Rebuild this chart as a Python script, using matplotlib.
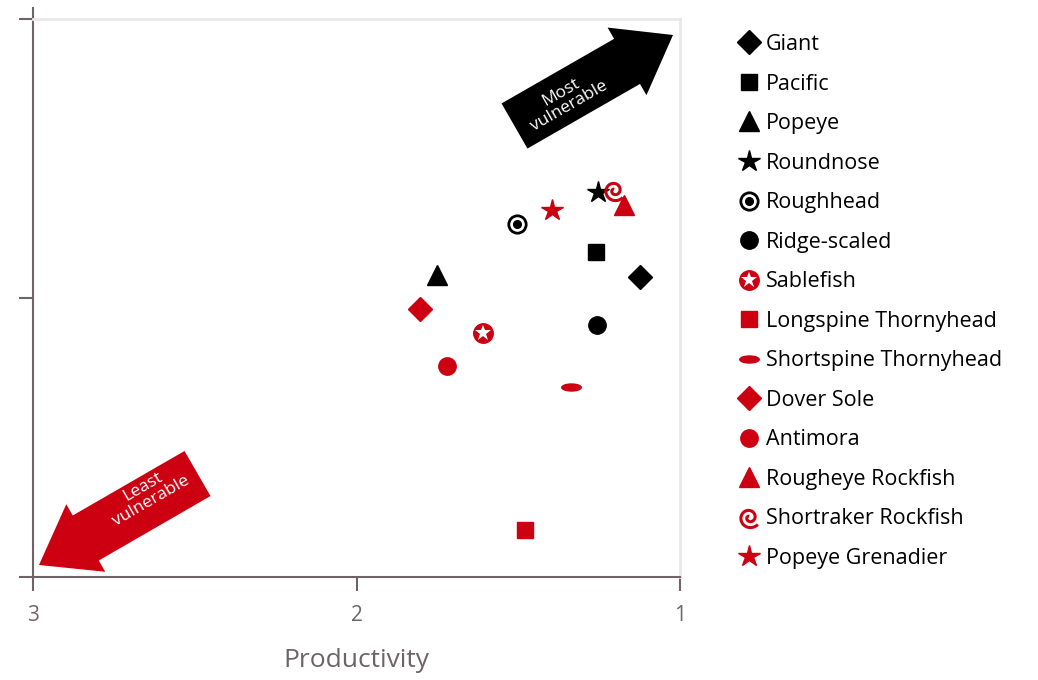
import numpy as np
import matplotlib
matplotlib.use("Agg")
import matplotlib.pyplot as plt
from matplotlib.path import Path
from matplotlib.patches import FancyArrow
from matplotlib.lines import Line2D
from matplotlib.legend_handler import HandlerTuple

plt.rcParams['font.family'] = ['Open Sans', 'DejaVu Sans']

# data (productivity on x, vulnerability on y)
species = ['Giant', 'Pacific', 'Popeye', 'Roundnose', 'Roughhead', 'Ridge-scaled',
           'Sablefish', 'Longspine Thornyhead', 'Shortspine Thornyhead', 'Dover Sole',
           'Antimora', 'Rougheye Rockfish', 'Shortraker Rockfish', 'Popeye Grenadier']
productivity = [1.124, 1.260, 1.751, 1.253, 1.504, 1.257,
                1.609, 1.479, 1.337, 1.804,
                1.720, 1.173, 1.204, 1.396]
vulnerability = [2.075, 2.165, 2.082, 2.380, 2.265, 1.903,
                 1.875, 1.168, 1.681, 1.961,
                 1.756, 2.333, 2.387, 2.315]
x_ticks = [3, 2, 1]
y_ticks = [1, 2, 3]

RED = '#cc0011'
BLACK = '#000000'
GREY = '#6e6466'

# custom marker shapes
th_end = 2 * np.pi + np.radians(320)
th = np.linspace(th_end - 3.2 * np.pi, th_end, 150)
r = 0.12 + 0.88 * (th - th[0]) / (th[-1] - th[0])
spiral = Path(np.column_stack([r * np.cos(th), r * np.sin(th)]))
circ = Path.unit_circle()
ellipse = Path(circ.vertices * np.array([1.0, 0.36]), circ.codes)

def style(name):
    # list of marker layers drawn on top of each other
    base = dict(linestyle='none')
    s = {
        'Giant': [dict(marker='D', ms=12, color=BLACK)],
        'Pacific': [dict(marker='s', ms=11.5, color=BLACK)],
        'Popeye': [dict(marker='^', ms=14, color=BLACK)],
        'Roundnose': [dict(marker='*', ms=16, color=BLACK)],
        'Roughhead': [dict(marker='o', ms=12.5, mfc='white', mec=BLACK, mew=2),
                      dict(marker='o', ms=5.5, color=BLACK)],
        'Ridge-scaled': [dict(marker='o', ms=12.5, color=BLACK)],
        'Sablefish': [dict(marker='o', ms=14, color=RED),
                      dict(marker='*', ms=12, color='white', mew=0)],
        'Longspine Thornyhead': [dict(marker='s', ms=11.5, color=RED)],
        'Shortspine Thornyhead': [dict(marker=ellipse, ms=14, color=RED)],
        'Dover Sole': [dict(marker='D', ms=12, color=RED)],
        'Antimora': [dict(marker='o', ms=12.5, color=RED)],
        'Rougheye Rockfish': [dict(marker='^', ms=14, color=RED)],
        'Shortraker Rockfish': [dict(marker=spiral, ms=14.5, mfc='none', mec=RED, mew=2.2)],
        'Popeye Grenadier': [dict(marker='*', ms=16, color=RED)],
    }[name]
    return [{**base, **k} for k in s]

fig = plt.figure(figsize=(10.38, 6.8), dpi=100)
ax = fig.add_axes([33 / 1038, 103 / 680, 647 / 1038, 558 / 680])

handles = []
for name, xv, yv in zip(species, productivity, vulnerability):
    layers = style(name)
    hs = []
    for k in layers:
        ax.plot([xv], [yv], zorder=3, **k)
        hs.append(Line2D([], [], **k))
    handles.append(tuple(hs))

ax.set_xlim(3, 1)
ax.set_ylim(1, 3)
ax.set_xticks(x_ticks)
ax.set_xticklabels([str(v) for v in x_ticks])
ax.set_yticks(y_ticks)
ax.set_yticklabels([])
ax.tick_params(axis='both', direction='out', length=10, width=1.5, color=GREY,
               labelcolor=GREY, labelsize=15, pad=10)
for side in ['left', 'bottom']:
    ax.spines[side].set_color(GREY)
    ax.spines[side].set_linewidth(1.5)
for side in ['top', 'right']:
    ax.spines[side].set_color('#e8e8e8')
    ax.spines[side].set_linewidth(2)
# left axis line runs a little above the plot box
ax.plot([0, 0], [1, 1.02], transform=ax.transAxes, color=GREY, lw=1.5, clip_on=False)

ax.set_xlabel('Productivity', fontsize=19, color=GREY, labelpad=16)

# direction arrows, drawn in pixel space (origin top-left)
def px_arrow(tail, tip, width, head_w, head_l, color, text, text_xy):
    tx, ty = tail[0] / 100, (680 - tail[1]) / 100
    hx, hy = tip[0] / 100, (680 - tip[1]) / 100
    arr = FancyArrow(tx, ty, hx - tx, hy - ty, width=width / 100, head_width=head_w / 100,
                     head_length=head_l / 100, length_includes_head=True,
                     transform=fig.dpi_scale_trans, color=color, lw=0, zorder=5)
    fig.add_artist(arr)
    ang = np.degrees(np.arctan2(hy - ty, hx - tx))
    if ang > 90:
        ang -= 180
    if ang < -90:
        ang += 180
    fig.text(text_xy[0] / 1038, 1 - text_xy[1] / 680, text, rotation=ang,
             rotation_mode='anchor', ha='center', va='center', color='white',
             fontsize=12.5, linespacing=1.0, zorder=6)

px_arrow((514.5, 126), (673, 35), 52, 78, 53, BLACK, 'Most\nvulnerable', (565, 99))
px_arrow((197.5, 473.5), (39, 565), 52, 78, 54, RED, 'Least\nvulnerable', (147, 494))

fig.legend(handles, species, handler_map={tuple: HandlerTuple(ndivide=1, pad=0)},
           loc='upper left', bbox_to_anchor=(738 / 1038, 1 - 34 / 680), frameon=False,
           fontsize=15.5, labelspacing=0.86, handlelength=1.0, handletextpad=0.3,
           borderaxespad=0, borderpad=0)

fig.savefig('out.png', dpi=100)
